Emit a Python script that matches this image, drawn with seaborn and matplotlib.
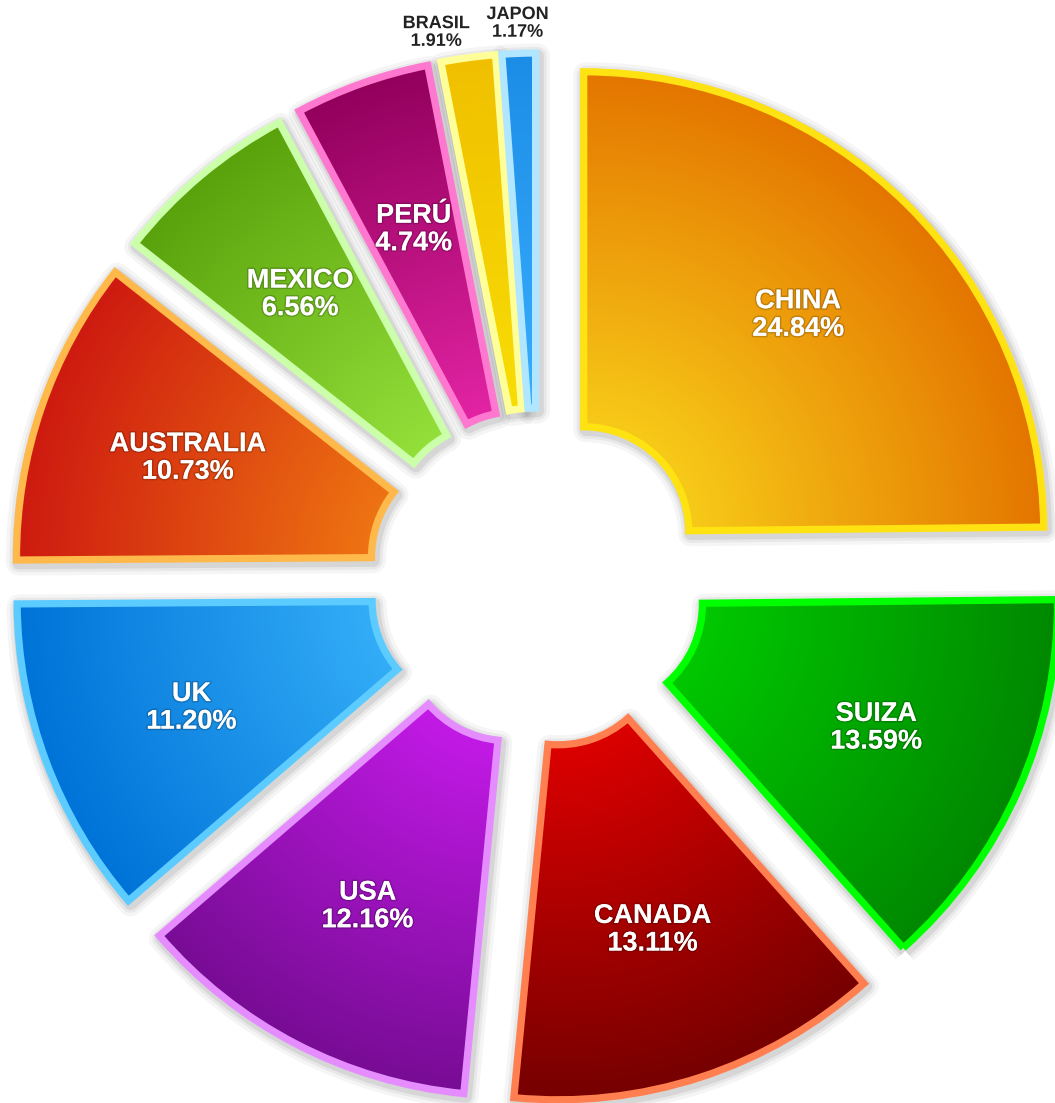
import numpy as np
import matplotlib
matplotlib.use("Agg")
import matplotlib.pyplot as plt
import matplotlib.patheffects as pe
from matplotlib.colors import LinearSegmentedColormap
from matplotlib.patches import PathPatch
from matplotlib.transforms import Affine2D
import seaborn as sns

# Share of each country (percent), clockwise from 12 o'clock
countries = ["CHINA", "SUIZA", "CANADA", "USA", "UK", "AUSTRALIA",
             "MEXICO", "PERÚ", "BRASIL", "JAPON"]
shares = [24.84, 13.59, 13.11, 12.16, 11.20, 10.73, 6.56, 4.74, 1.91, 1.17]

# Gradient colours (inner edge -> outer edge) and light border colours
inner_colors = ["#F7CA18", "#00C800", "#DC0000", "#C21AE6", "#33ADF7",
                "#EE7412", "#94E03A", "#E324A4", "#F8DD05", "#38AEFF"]
outer_colors = ["#E47500", "#008800", "#760000", "#770C94", "#0073D8",
                "#CE1A10", "#5AA20C", "#92005C", "#F0C000", "#1C8DE6"]
edge_colors = ["#FFE212", "#00FF00", "#FF7F50", "#E58CFF", "#5CCBFF",
               "#FFB84A", "#CCFFAA", "#FF78D0", "#FFFF99", "#B0E6FF"]

# Labels of very thin slices sit outside; small angular nudge to avoid overlap
outside_label_nudge = {"BRASIL": 3.3, "JAPON": 0.0}

sns.set_theme(style="white")
plt.rcParams["font.family"] = ["Liberation Sans", "DejaVu Sans"]

W, H = 1055, 1103
fig = plt.figure(figsize=(W / 100, H / 100), dpi=100)
fig.patch.set_facecolor("white")
ax = fig.add_axes([0, 0, 1, 1])

R_OUT = 460
R_IN = 105
GAP = 65
center = (538, H - 578)

wedges, _ = ax.pie(
    shares,
    radius=R_OUT,
    center=center,
    startangle=90,
    counterclock=False,
    explode=[GAP] * len(shares),
    labeldistance=None,
    wedgeprops=dict(width=R_OUT - R_IN, linewidth=5.2, joinstyle="miter"),
    frame=False,
)

for w, ci, co, ec in zip(wedges, inner_colors, outer_colors, edge_colors):
    cx, cy = w.center
    r = w.r
    r0 = r - w.width

    # soft drop shadow
    path = w.get_path()
    for lw, a in [(18, 0.05), (13, 0.07), (9, 0.10)]:
        ax.add_patch(PathPatch(path, transform=Affine2D().translate(2, -3) + ax.transData,
                               fc="none", ec="#404040", lw=lw, alpha=a, zorder=1,
                               joinstyle="round"))

    # radial gradient fill clipped to the wedge
    n = 2 * int(r) + 1
    xs = np.linspace(cx - r, cx + r, n)
    ys = np.linspace(cy - r, cy + r, n)
    X, Y = np.meshgrid(xs, ys)
    t = np.clip((np.hypot(X - cx, Y - cy) - r0) / (r - r0), 0, 1)
    cmap = LinearSegmentedColormap.from_list("grad", [ci, co])
    im = ax.imshow(t, cmap=cmap, vmin=0, vmax=1, origin="lower",
                   extent=(cx - r, cx + r, cy - r, cy + r),
                   interpolation="bilinear", zorder=2)
    im.set_clip_path(w)

    w.set_facecolor("none")
    w.set_edgecolor(ec)
    w.set_zorder(3)

inner_fx = [pe.Stroke(linewidth=2.2, foreground=(0, 0, 0, 0.18)), pe.Normal()]
outer_fx = [pe.Stroke(linewidth=3, foreground="white"), pe.Normal()]

for w, name, val in zip(wedges, countries, shares):
    cx, cy = w.center
    mid = 0.5 * (w.theta1 + w.theta2)
    if name in outside_label_nudge:
        ang = np.deg2rad(mid + outside_label_nudge[name])
        rl = 490
        ax.text(cx + rl * np.cos(ang), cy + rl * np.sin(ang), f"{name}\n{val:.2f}%",
                ha="center", va="center", color="#222222", fontsize=13,
                fontweight="bold", linespacing=1.05, zorder=5, path_effects=outer_fx)
    else:
        ang = np.deg2rad(mid)
        rl = 305
        ax.text(cx + rl * np.cos(ang), cy + rl * np.sin(ang), f"{name}\n{val:.2f}%",
                ha="center", va="center", color="white", fontsize=19.5,
                fontweight="bold", linespacing=1.08, zorder=5, path_effects=inner_fx)

ax.set_xlim(0, W)
ax.set_ylim(0, H)
ax.set_aspect("equal")
ax.axis("off")

fig.savefig("out.png", dpi=100, facecolor="white")
